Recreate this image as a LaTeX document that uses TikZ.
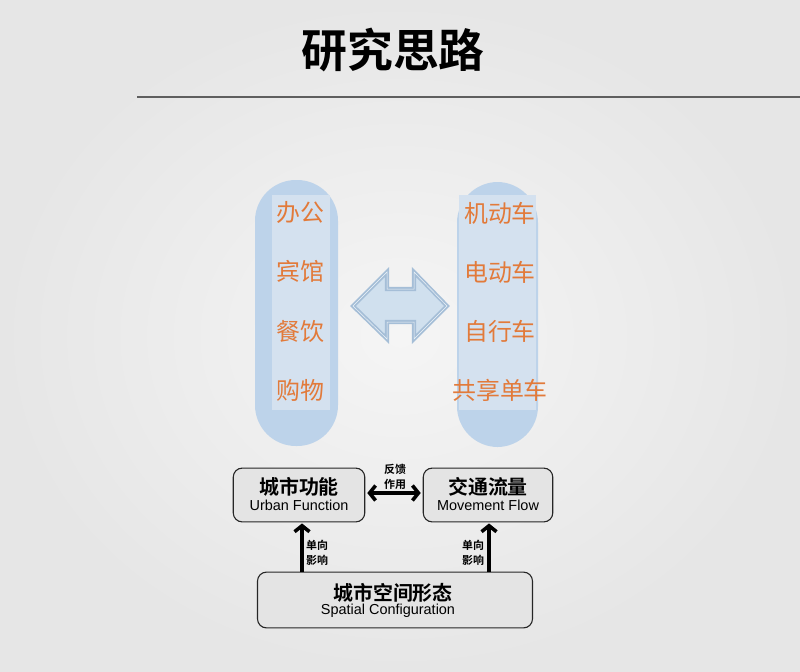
\documentclass[tikz,border=0pt]{standalone}
\usepackage{fontspec}
\setmainfont{Liberation Sans}
\newfontfamily\cjk{Noto Sans CJK SC}
\newfontfamily\cjkb{Noto Sans CJK SC Bold}
\usetikzlibrary{arrows.meta}
\definecolor{bgc}{RGB}{230,230,230}
\definecolor{bgin}{RGB}{245,245,245}
\definecolor{pillc}{RGB}{189,211,234}
\definecolor{pillin}{RGB}{212,225,239}
\definecolor{orangec}{RGB}{226,122,58}
\definecolor{arrowfill}{RGB}{208,224,238}
\definecolor{arrowdraw}{RGB}{165,190,215}
\definecolor{boxfill}{RGB}{228,228,228}
\definecolor{rulec}{RGB}{95,95,95}
\tikzset{
  pill/.style={fill=pillc, rounded corners=41},
  pillinner/.style={fill=pillin},
  item/.style={text=orangec, font=\cjk\fontsize{24}{24}\selectfont, inner sep=0},
  boxstyle/.style={draw=black!85, line width=1.1, fill=boxfill, rounded corners=9},
  boxtext/.style={align=center, inner sep=0},
  thickarrow/.style={line width=3.2, black},
  mybarb/.tip={Straight Barb[length=6,width=15,line width=3.6]},
  small/.style={font=\cjkb\fontsize{11}{15}\selectfont, align=center, inner sep=0},
}
\begin{document}
\begin{tikzpicture}[x=1bp,y=-1bp]
\useasboundingbox (0,0) rectangle (800,672);
\shade[inner color=bgin, outer color=bgc] (0,0) rectangle (800,672);
% title
\node[font=\cjkb\fontsize{46}{46}\selectfont, inner sep=0] (title) at (393,50) {研究思路};
\draw[rulec, line width=1.3] (137,97) -- (800,97);
% left pill
\fill[pill] (255,180) rectangle (338,446);
\fill[pillinner] (272,195) rectangle (330,410);
% right pill
\fill[pill] (457,182) rectangle (538,447);
\fill[pillinner] (459,195) rectangle (536,410);
% items
\node[item] (a1) at (300,212) {办公};
\node[item] (a2) at (300,271) {宾馆};
\node[item] (a3) at (300,331) {餐饮};
\node[item] (a4) at (300,390) {购物};
\node[item] (b1) at (500,213) {机动车};
\node[item] (b2) at (500,272) {电动车};
\node[item] (b3) at (500,331) {自行车};
\node[item] (b4) at (500,390) {共享单车};
% double arrow
\draw[fill=arrowfill, draw=arrowdraw, line width=1.8, double=arrowfill!40!white, double distance=0.5]
  (353,306) -- (387,272) -- (387,289) -- (414,289) -- (414,272) -- (447,306)
  -- (414,339) -- (414,322) -- (387,322) -- (387,339) -- cycle;
% bottom boxes
\node[boxstyle, minimum width=132, minimum height=54] (uf) at (299,495) {};
\node[boxtext] at (299,487) {\cjkb\fontsize{20}{20}\selectfont 城市功能};
\node[boxtext] at (299,505) {\fontsize{14.5}{14.5}\selectfont Urban Function};
\node[boxstyle, minimum width=130, minimum height=54] (mf) at (488,495) {};
\node[boxtext] at (488,487) {\cjkb\fontsize{20}{20}\selectfont 交通流量};
\node[boxtext] at (488,505) {\fontsize{14.5}{14.5}\selectfont Movement Flow};
\node[boxstyle, minimum width=276, minimum height=56] (sc) at (395,600) {};
\node[boxtext] at (393,593) {\cjkb\fontsize{20}{20}\selectfont 城市空间形态};
\node[boxtext] at (388,611) {\fontsize{14.5}{14.5}\selectfont Spatial Configuration};
% arrows
\draw[thickarrow, {mybarb}-{mybarb}] ([xshift=2]uf.east |- 0,493) -- ([xshift=-2]mf.west |- 0,493);
\node[small] (fb) at (395,477) {反馈\\作用};
\draw[thickarrow, -{mybarb}] (sc.north -| 302,0) -- ([yshift=-1]uf.south -| 302,0);
\draw[thickarrow, -{mybarb}] (sc.north -| 489,0) -- ([yshift=-1]mf.south -| 489,0);
\node[small] (l1) at (317,553) {单向\\影响};
\node[small] (l2) at (473,553) {单向\\影响};
\end{tikzpicture}
\end{document}
